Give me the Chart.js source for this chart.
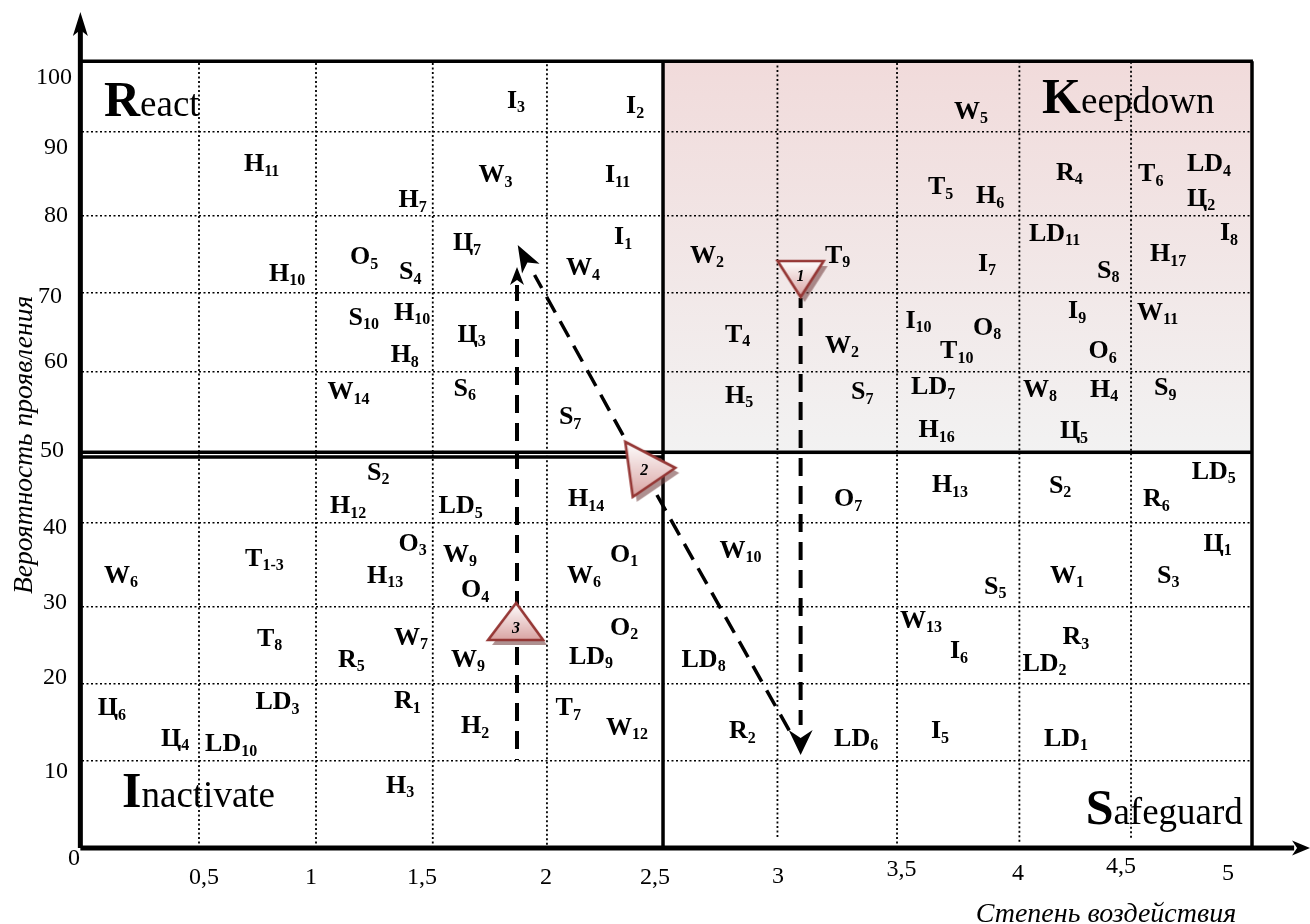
<!DOCTYPE html>
<html>
<head>
<meta charset="utf-8">
<title>Risk matrix</title>
<script src="https://cdn.jsdelivr.net/npm/chart.js@4/dist/chart.umd.min.js"></script>
<style>
  html, body { margin: 0; padding: 0; background: #fff; }
  canvas { display: block; }
</style>
</head>
<body>
<canvas id="riskChart" width="1310" height="924"></canvas>
<script>
const gridX = [0.5, 1, 1.499, 1.987, 2.483, 2.972, 3.483, 4.006, 4.483];
const gridXEnd = [0, 0, 0, 0.4, 0, 1.4, 0, 0.8, 1.3];
const gridY = [11.07, 20.87, 30.66, 41.35, 60.56, 70.6, 80.4, 91.1];

const xTickLabels = ["0,5", "1", "1,5", "2", "2,5", "3", "3,5", "4", "4,5", "5"];
const xTickX = [0.457, 0.953, 1.389, 1.957, 2.385, 2.949, 3.438, 3.974, 4.376, 4.872];
const xTickY = [-4.58, -4.58, -4.58, -4.58, -4.58, -4.45, -3.56, -4.07, -3.18, -4.07];
const yTickLabels = ["0", "10", "20", "30", "40", "50", "60", "70", "80", "90", "100"];
const yTickX = [-0.06, -0.162, -0.167, -0.167, -0.167, -0.179, -0.162, -0.188, -0.162, -0.162, -0.197];
const yTickY = [-2.16, 8.91, 20.87, 30.41, 39.9, 49.8, 61.07, 69.4, 79.64, 88.3, 97.2];

const riskNames = ["I3", "I2", "H11", "W3", "I11", "H7", "H10", "O5", "S4", "Ц7", "I1", "W4", "S10", "H10", "Ц3", "H8", "W14", "S6", "S7",
  "W5", "T5", "H6", "R4", "T6", "LD4", "Ц2", "LD11", "I8", "W2", "T9", "I7", "S8", "H17", "I10", "O8", "T10", "I9", "W11", "T4", "W2", "O6", "H5", "S7", "LD7", "W8", "H4", "S9", "H16", "Ц5",
  "S2", "H12", "LD5", "H14", "O3", "W9", "T1-3", "W6", "H13", "O4", "O1", "W6", "T8", "W7", "O2", "R5", "W9", "LD9", "Ц6", "LD3", "R1", "T7", "H2", "W12", "Ц4", "LD10", "H3",
  "LD5", "H13", "S2", "R6", "O7", "W10", "Ц1", "S3", "W1", "S5", "W13", "R3", "I6", "LD2", "LD8", "R2", "LD6", "I5", "LD1"];
const riskX = [1.816, 2.325, 0.692, 1.694, 2.235, 1.353, 0.799, 1.145, 1.355, 1.585, 2.274, 2.068, 1.139, 1.333, 1.605, 1.319, 1.049, 1.588, 2.038,
  3.726, 3.615, 3.821, 4.162, 4.513, 4.722, 4.722, 4.047, 4.863, 2.598, 3.175, 3.829, 4.338, 4.564, 3.519, 3.808, 3.667, 4.214, 4.509, 2.748, 3.175, 4.301, 2.748, 3.286, 3.543, 4.021, 4.308, 4.581, 3.575, 4.179,
  1.218, 1.06, 1.524, 2.077, 1.353, 1.543, 0.697, 0.094, 1.218, 1.62, 2.256, 2.073, 0.748, 1.333, 2.256, 1.094, 1.577, 2.081, 0.067, 0.741, 1.333, 2.024, 1.62, 2.239, 0.338, 0.526, 1.299,
  4.742, 3.632, 4.132, 4.534, 3.214, 2.724, 4.793, 4.594, 4.137, 3.855, 3.496, 4.19, 3.709, 4.019, 2.562, 2.765, 3.214, 3.628, 4.111];
const riskY = [94.15, 93.5, 86.13, 84.73, 84.73, 81.55, 72.14, 74.3, 72.39, 76.08, 76.84, 72.9, 66.54, 67.18, 64.38, 61.83, 57.12, 57.51, 53.94,
  92.75, 83.2, 82.06, 84.99, 84.86, 86.13, 81.68, 77.23, 77.35, 74.43, 74.43, 73.41, 72.52, 74.68, 66.16, 65.27, 62.34, 67.43, 67.18, 64.38, 62.98, 62.34, 56.62, 57.12, 57.76, 57.38, 57.38, 57.63, 52.29, 52.16,
  46.82, 42.62, 42.62, 43.51, 37.79, 36.39, 35.88, 33.72, 33.72, 31.93, 36.39, 33.72, 25.7, 25.83, 27.1, 23.03, 23.03, 23.41, 16.92, 17.68, 17.81, 16.92, 14.63, 14.38, 12.98, 12.34, 7.0,
  46.95, 45.29, 45.17, 43.51, 43.51, 36.9, 37.79, 33.72, 33.72, 32.32, 27.99, 25.95, 24.17, 22.52, 23.03, 13.99, 12.98, 13.99, 12.98];

const zoneNames = ["React", "Keepdown", "Inactivate", "Safeguard"];
const zoneX = [0.094, 4.103, 0.171, 4.289];
const zoneY = [93.13, 93.51, 5.22, 3.05];

const stageNames = ["1", "2", "3"];
const stageX = [3.071, 2.403, 1.855];
const stageY = [72.9, 48.24, 28.12];

const frameLines = [
  [[-0.007, 0], [-0.007, 105]],
  [[-0.007, 0], [5.18, 0]],
  [[0, 100.1], [5.004, 100.1]],
  [[5, 0], [5, 100.1]],
  [[2.483, 0], [2.483, 100.1]],
  [[-0.004, 50.35], [5, 50.35]],
  [[-0.004, 49.75], [2.483, 49.75]],
];
const moveLines = [
  [[1.859, 11.2], [1.859, 71.63]],
  [[2.312, 52.54], [1.934, 72.9]],
  [[2.457, 44.91], [3.038, 14.12]],
  [[3.071, 69.97], [3.071, 15.65]],
];
const moveDashOffset = [17, 0, 0, 8];
const arrowTipX = [-0.007, 5.248, 1.859, 1.862, 3.071];
const arrowTipY = [106.36, 0, 73.92, 76.72, 11.83];
const arrowAngle = [-90, 0, -90, -119, 90];
const arrowSize = [[24, 7.5, 6], [18, 7.5, 5], [18, 7, 5], [27, 10, 7], [25, 12, 8]];

const SERIF = '"Liberation Serif", "Times New Roman", serif';
const STAGE_BOX = 76;
const stageCorners = [
  [[-23, -14], [23, -14], [0, 22]],
  [[-19, -27], [31, -1], [-11.5, 28]],
  [[0, -24], [-28, 13], [27, 13]],
];

function lineDataset(pair, width, dash, order, dashOffset = 0) {
  return {
    type: "scatter",
    showLine: true,
    data: pair.map(([x, y]) => ({ x, y })),
    borderColor: "#000",
    borderWidth: width,
    borderDash: dash,
    borderDashOffset: dashOffset,
    pointRadius: 0,
    clip: false,
    order,
  };
}

function stageIcon(corners) {
  const icon = document.createElement("canvas");
  icon.width = STAGE_BOX;
  icon.height = STAGE_BOX;
  const ctx = icon.getContext("2d");
  const mid = STAGE_BOX / 2;
  const outline = (dx, dy) => {
    ctx.beginPath();
    corners.forEach(([x, y], i) => {
      if (i === 0) ctx.moveTo(mid + x + dx, mid + y + dy);
      else ctx.lineTo(mid + x + dx, mid + y + dy);
    });
    ctx.closePath();
  };
  outline(4, 5);
  ctx.fillStyle = "rgba(120, 70, 70, 0.6)";
  ctx.fill();
  const ys = corners.map((c) => c[1]);
  const gradient = ctx.createLinearGradient(0, mid + Math.min(...ys), 0, mid + Math.max(...ys));
  gradient.addColorStop(0, "#ffffff");
  gradient.addColorStop(1, "#d9a3a2");
  outline(0, 0);
  ctx.fillStyle = gradient;
  ctx.fill();
  ctx.strokeStyle = "#953735";
  ctx.lineWidth = 2.6;
  ctx.lineJoin = "miter";
  ctx.stroke();
  return icon;
}

const paperPlugin = {
  id: "paper",
  beforeDraw(chart) {
    const { ctx, scales: { x, y } } = chart;
    ctx.save();
    ctx.fillStyle = "#fff";
    ctx.fillRect(0, 0, chart.width, chart.height);
    const top = y.getPixelForValue(100);
    const bottom = y.getPixelForValue(50);
    const gradient = ctx.createLinearGradient(0, top, 0, bottom);
    gradient.addColorStop(0, "#f1dbdb");
    gradient.addColorStop(1, "#f2f2f2");
    ctx.fillStyle = gradient;
    ctx.fillRect(x.getPixelForValue(2.483), top, x.getPixelForValue(5) - x.getPixelForValue(2.483), bottom - top);
    ctx.restore();
  },
};

function drawArrowHead(ctx, px, py, degrees, [length, half, notch]) {
  ctx.save();
  ctx.translate(px, py);
  ctx.rotate((degrees * Math.PI) / 180);
  ctx.beginPath();
  ctx.moveTo(0, 0);
  ctx.lineTo(-length, -half);
  ctx.lineTo(-length + notch, 0);
  ctx.lineTo(-length, half);
  ctx.closePath();
  ctx.fillStyle = "#000";
  ctx.fill();
  ctx.restore();
}

function drawRisk(ctx, name, px, py) {
  const [, main, sub] = name.match(/^(\D+)(.+)$/);
  ctx.font = `bold 26px ${SERIF}`;
  ctx.fillText(main, px, py);
  const width = ctx.measureText(main).width;
  ctx.font = `bold 16px ${SERIF}`;
  ctx.fillText(sub, px + width, py + 4.5);
}

const textPlugin = {
  id: "texts",
  afterDatasetsDraw(chart) {
    const { ctx, scales: { x, y } } = chart;
    ctx.save();
    ctx.fillStyle = "#000";
    ctx.textBaseline = "alphabetic";
    ctx.textAlign = "left";

    arrowTipX.forEach((tip, i) => {
      drawArrowHead(ctx, x.getPixelForValue(tip), y.getPixelForValue(arrowTipY[i]), arrowAngle[i], arrowSize[i]);
    });

    riskNames.forEach((name, i) => {
      drawRisk(ctx, name, x.getPixelForValue(riskX[i]), y.getPixelForValue(riskY[i]));
    });

    zoneNames.forEach((name, i) => {
      const px = x.getPixelForValue(zoneX[i]);
      const py = y.getPixelForValue(zoneY[i]);
      ctx.font = `bold 50px ${SERIF}`;
      ctx.fillText(name[0], px, py);
      const width = ctx.measureText(name[0]).width;
      ctx.font = `37px ${SERIF}`;
      ctx.fillText(name.slice(1), px + width, py);
    });

    ctx.font = `24px ${SERIF}`;
    xTickLabels.forEach((label, i) => {
      ctx.fillText(label, x.getPixelForValue(xTickX[i]), y.getPixelForValue(xTickY[i]));
    });
    yTickLabels.forEach((label, i) => {
      ctx.fillText(label, x.getPixelForValue(yTickX[i]), y.getPixelForValue(yTickY[i]));
    });

    ctx.font = `italic 28px ${SERIF}`;
    ctx.fillText("Степень воздействия", x.getPixelForValue(3.819), y.getPixelForValue(-9.41));
    ctx.font = `italic 27.5px ${SERIF}`;
    ctx.save();
    ctx.translate(x.getPixelForValue(-0.215), y.getPixelForValue(32.3));
    ctx.rotate(-Math.PI / 2);
    ctx.fillText("Вероятность проявления", 0, 0);
    ctx.restore();

    ctx.font = `italic bold 16px ${SERIF}`;
    ctx.textAlign = "center";
    ctx.textBaseline = "middle";
    stageNames.forEach((name, i) => {
      ctx.fillText(name, x.getPixelForValue(stageX[i]), y.getPixelForValue(stageY[i]) + 2);
    });
    ctx.restore();
  },
};

const chart = new Chart(document.getElementById("riskChart"), {
  type: "scatter",
  data: {
    datasets: [
      {
        label: "Stages",
        data: stageX.map((x, i) => ({ x, y: stageY[i] })),
        pointStyle: stageCorners.map(stageIcon),
        pointRadius: STAGE_BOX / 2,
        clip: false,
        order: 0,
      },
      {
        label: "Risks",
        data: riskX.map((x, i) => ({ x, y: riskY[i] })),
        pointRadius: 0,
        order: 1,
      },
      ...moveLines.map((pair, i) => lineDataset(pair, i === 0 || i === 3 ? 4 : 3.5, [18, 10], 2, moveDashOffset[i])),
      ...frameLines.map((pair, i) => lineDataset(pair, i < 2 ? 5 : 3.5, [], 3)),
      ...gridX.map((x, i) => lineDataset([[x, gridXEnd[i]], [x, 100]], 1.8, [2, 2.5], 4)),
    ],
  },
  options: {
    responsive: false,
    animation: false,
    layout: { padding: { left: 82, right: 58, top: 62, bottom: 76 } },
    plugins: { legend: { display: false }, tooltip: { enabled: false } },
    scales: {
      x: {
        type: "linear",
        min: 0,
        max: 5,
        ticks: { display: false },
        grid: { display: false, drawTicks: false },
        border: { display: false },
      },
      y: {
        type: "linear",
        min: 0,
        max: 100,
        afterBuildTicks(scale) { scale.ticks = gridY.map((value) => ({ value })); },
        ticks: { display: false },
        grid: { color: "#000", lineWidth: 1.6, drawTicks: false },
        border: { display: false, dash: [2, 2.5] },
      },
    },
  },
  plugins: [paperPlugin, textPlugin],
});
</script>
</body>
</html>
